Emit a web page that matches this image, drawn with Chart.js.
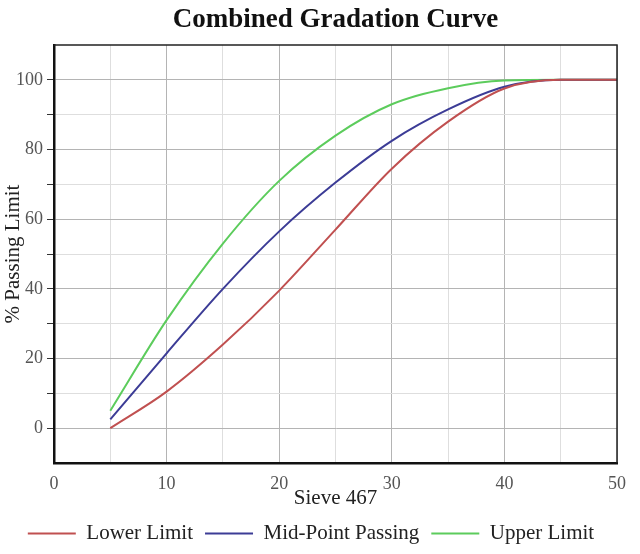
<!DOCTYPE html>
<html>
<head>
<meta charset="utf-8">
<script src="https://cdn.jsdelivr.net/npm/chart.js@4.4.1/dist/chart.umd.min.js"></script>
<style>
	html, body { margin: 0; padding: 0; background: #fff; }
	#wrap { width: 640px; height: 554px; }
</style>
</head>
<body>
<div id="wrap"><canvas id="chart"></canvas></div>
<script>
// sieve positions and % passing for each limit
const sieve = [5, 10, 15, 20, 25, 30, 35, 40, 45, 50];
const lowerLimit = [0, 10.5, 24, 39.5, 57, 74.5, 88, 97.5, 100, 100];
const midPoint = [2.5, 21.5, 40, 56.5, 70.5, 82.5, 91.5, 98, 100, 100];
const upperLimit = [5, 31, 53, 71, 84, 93, 97.6, 99.8, 100, 100];

const xTicks = [0, 10, 20, 30, 40, 50];
const yTicks = [0, 20, 40, 60, 80, 100];

const serif = '"Liberation Serif", "Times New Roman", serif';

function points(values) {
	return sieve.map((s, i) => ({ x: s, y: values[i] }));
}

function series(label, values, color) {
	return {
		label: label,
		data: points(values),
		borderColor: color,
		backgroundColor: color,
		borderWidth: 2,
		pointRadius: 0,
		cubicInterpolationMode: 'monotone',
		fill: false
	};
}

// thin frame on the top and right of the plot
const frame = {
	id: 'frame',
	afterDatasetsDraw(chart) {
		const a = chart.chartArea;
		const ctx = chart.ctx;
		ctx.save();
		ctx.strokeStyle = '#222';
		ctx.lineWidth = 1.5;
		ctx.beginPath();
		ctx.moveTo(a.left, a.top);
		ctx.lineTo(a.right, a.top);
		ctx.lineTo(a.right, a.bottom);
		ctx.stroke();
		ctx.restore();
	}
};

const ctx = document.getElementById('chart').getContext('2d');
new Chart(ctx, {
	type: 'line',
	data: {
		datasets: [
			series('Lower Limit', lowerLimit, '#c05050'),
			series('Mid-Point Passing', midPoint, '#3c3c96'),
			series('Upper Limit', upperLimit, '#5ccc5c')
		]
	},
	options: {
		responsive: true,
		maintainAspectRatio: false,
		animation: false,
		layout: { padding: { left: 5, right: 23, top: 0, bottom: 0 } },
		plugins: {
			title: {
				display: true,
				fullSize: false,
				text: 'Combined Gradation Curve',
				color: '#111',
				font: { family: serif, size: 27, weight: 'bold' },
				padding: { top: 4, bottom: 8.6 }
			},
			legend: {
				position: 'bottom',
				labels: {
					usePointStyle: true,
					pointStyle: 'line',
					pointStyleWidth: 48,
					boxHeight: 21,
					padding: 12,
					color: '#222',
					font: { family: serif, size: 21 }
				}
			},
			tooltip: { enabled: false }
		},
		scales: {
			x: {
				type: 'linear',
				min: 0,
				max: 50,
				afterFit: (scale) => { scale.height = 48; },
				ticks: {
					stepSize: 5,
					padding: 10,
					color: '#555',
					font: { family: serif, size: 18 },
					callback: (v) => xTicks.includes(v) ? v : ''
				},
				grid: {
					drawTicks: false,
					color: (c) => c.tick.value % 10 === 0 ? '#b4b4b4' : '#dedede',
					lineWidth: 1
				},
				border: { display: true, color: '#111', width: 2.5 },
				title: {
					display: true,
					text: 'Sieve 467',
					color: '#222',
					font: { family: serif, size: 21 },
					padding: { top: 0, bottom: 0 }
				}
			},
			y: {
				min: -10,
				max: 110,
				afterFit: (scale) => { scale.width = 49; },
				ticks: {
					stepSize: 10,
					padding: 4,
					color: '#555',
					font: { family: serif, size: 18 },
					callback: (v) => yTicks.includes(v) ? v : ''
				},
				grid: {
					tickLength: 7,
					tickColor: (c) => (c.tick.value < 0 || c.tick.value > 100) ? 'rgba(0,0,0,0)' : '#333',
					color: (c) => {
						const v = c.tick.value;
						if (v < 0 || v > 100) return 'rgba(0,0,0,0)';
						return v % 20 === 0 ? '#b4b4b4' : '#dedede';
					},
					lineWidth: 1
				},
				border: { display: true, color: '#111', width: 2.5 },
				title: {
					display: true,
					text: '% Passing Limit',
					color: '#222',
					font: { family: serif, size: 21 },
					padding: { top: -4, bottom: 0 }
				}
			}
		}
	},
	plugins: [frame]
});
</script>
</body>
</html>
